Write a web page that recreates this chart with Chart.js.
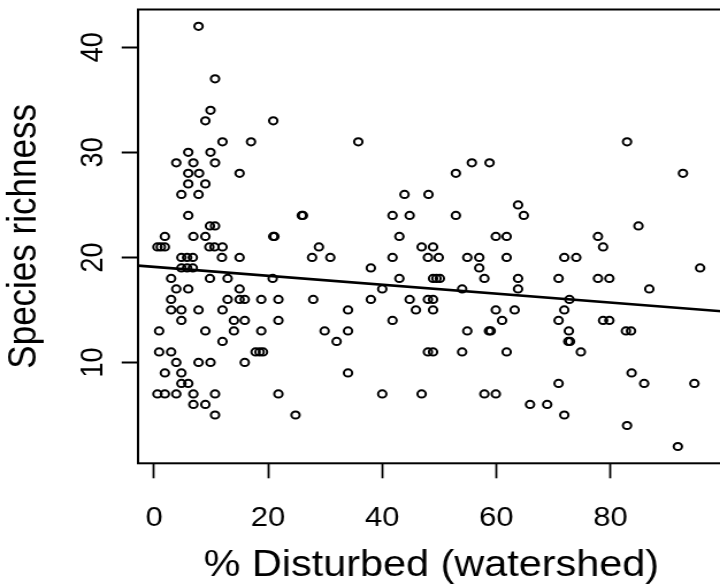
<!DOCTYPE html>
<html>
<head>
<meta charset="utf-8">
<script src="https://cdn.jsdelivr.net/npm/chart.js@4/dist/chart.umd.min.js"></script>
<style>
  html, body { margin: 0; padding: 0; background: #fff; overflow: hidden; width: 720px; height: 588px; }
  /* plot is laid out narrower, then stretched; its right edge runs past the page */
  #wrap { width: 636px; height: 588px; transform: scaleX(1.1502); transform-origin: 0 0; }
</style>
</head>
<body>
<div id="wrap"><canvas id="scatter"></canvas></div>
<script>
// % of watershed disturbed, one line per richness level below
const disturbed = [
  7.8,
  10.7,
  9.9,
  9.0, 20.9,
  12.0, 17.0, 35.8, 82.9,
  6.0, 9.9,
  3.9, 6.9, 10.7, 55.7, 58.8,
  6.0, 7.9, 15.0, 52.9, 92.7,
  6.0, 9.0,
  4.8, 7.8, 43.9, 48.1,
  63.8,
  6.0, 25.9, 26.1, 41.8, 44.8, 52.9, 64.8,
  9.8, 10.7, 84.9,
  1.9, 6.9, 9.0, 20.9, 21.1, 43.0, 59.9, 61.8, 77.8,
  0.6, 1.2, 1.9, 9.7, 10.6, 12.0, 28.9, 46.9, 48.9, 78.7,
  4.8, 5.8, 6.8, 11.9, 15.0, 27.7, 30.9, 41.8, 48.0, 49.9, 54.9, 57.0, 61.8, 71.9, 74.0,
  4.8, 5.8, 6.8, 38.0, 57.0, 95.7,
  3.0, 9.8, 12.9, 20.8, 43.0, 48.9, 49.5, 50.1, 57.9, 63.8, 70.9, 77.8, 79.8,
  3.9, 6.0, 15.0, 40.0, 54.0, 63.8, 86.8,
  3.0, 12.9, 15.0, 15.9, 18.8, 21.8, 27.9, 38.0, 44.8, 48.0, 48.9, 72.8,
  3.0, 4.8, 7.8, 12.0, 34.0, 45.9, 48.9, 59.9, 63.2, 71.9,
  4.8, 14.0, 15.9, 21.8, 41.8, 61.0, 70.9, 78.7, 79.8,
  0.9, 9.0, 14.0, 18.8, 29.9, 34.0, 54.9, 58.7, 59.0, 72.7, 82.7, 83.6,
  12.0, 32.0, 72.6, 72.9,
  0.9, 3.0, 17.8, 18.5, 19.1, 48.0, 48.9, 54.0, 61.8, 74.8,
  3.9, 7.8, 9.9, 15.9,
  1.9, 4.8, 34.0, 83.7,
  4.8, 6.0, 70.9, 85.9, 94.7,
  0.6, 1.9, 3.9, 6.9, 10.7, 21.8, 40.0, 46.9, 57.9, 59.9,
  6.9, 9.0, 65.9, 68.9,
  10.7, 24.8, 71.9,
  82.9,
  91.8
];

const richness = [
  42,
  37,
  34,
  33, 33,
  31, 31, 31, 31,
  30, 30,
  29, 29, 29, 29, 29,
  28, 28, 28, 28, 28,
  27, 27,
  26, 26, 26, 26,
  25,
  24, 24, 24, 24, 24, 24, 24,
  23, 23, 23,
  22, 22, 22, 22, 22, 22, 22, 22, 22,
  21, 21, 21, 21, 21, 21, 21, 21, 21, 21,
  20, 20, 20, 20, 20, 20, 20, 20, 20, 20, 20, 20, 20, 20, 20,
  19, 19, 19, 19, 19, 19,
  18, 18, 18, 18, 18, 18, 18, 18, 18, 18, 18, 18, 18,
  17, 17, 17, 17, 17, 17, 17,
  16, 16, 16, 16, 16, 16, 16, 16, 16, 16, 16, 16,
  15, 15, 15, 15, 15, 15, 15, 15, 15, 15,
  14, 14, 14, 14, 14, 14, 14, 14, 14,
  13, 13, 13, 13, 13, 13, 13, 13, 13, 13, 13, 13,
  12, 12, 12, 12,
  11, 11, 11, 11, 11, 11, 11, 11, 11, 11,
  10, 10, 10, 10,
  9, 9, 9, 9,
  8, 8, 8, 8, 8,
  7, 7, 7, 7, 7, 7, 7, 7, 7, 7,
  6, 6, 6, 6,
  5, 5, 5,
  4,
  2
];

const xTicks = [0, 20, 40, 60, 80];
const yTicks = [10, 20, 30, 40];

// fitted straight line: richness = fitIntercept + fitSlope * disturbed
const fitIntercept = 19.1;
const fitSlope = -0.0425;

const xRange = [-2.8, 100];
const yRange = [0.4, 43.6];

const family = '"Liberation Sans", Arial, Helvetica, sans-serif';

const points = disturbed.map((x, i) => ({ x: x, y: richness[i] }));
const fitLine = xRange.map(x => ({ x: x, y: fitIntercept + fitSlope * x }));

// box around the plotting region
const frame = {
  id: 'frame',
  afterDatasetsDraw(chart) {
    const { ctx, chartArea: a } = chart;
    ctx.save();
    ctx.strokeStyle = '#000';
    ctx.lineWidth = 2;
    ctx.strokeRect(a.left, a.top, a.right - a.left, a.bottom - a.top);
    ctx.restore();
  }
};

// y tick labels run parallel to the axis, centred on their ticks
const yLabels = {
  id: 'yLabels',
  afterDraw(chart) {
    const { ctx } = chart;
    const y = chart.scales.y;
    ctx.save();
    ctx.fillStyle = '#000';
    ctx.font = '27px ' + family;
    ctx.textAlign = 'center';
    ctx.textBaseline = 'middle';
    yTicks.forEach(v => {
      ctx.save();
      ctx.translate(81.7, y.getPixelForValue(v));
      ctx.rotate(-Math.PI / 2);
      ctx.fillText(String(v), 0, 0);
      ctx.restore();
    });
    ctx.restore();
  }
};

new Chart(document.getElementById('scatter'), {
  type: 'scatter',
  data: {
    datasets: [{
      data: points,
      pointStyle: 'circle',
      pointRadius: 3.6,
      pointBorderWidth: 2,
      borderColor: '#000',
      backgroundColor: 'rgba(0,0,0,0)',
      pointBackgroundColor: 'rgba(0,0,0,0)'
    }, {
      type: 'line',
      data: fitLine,
      borderColor: '#000',
      borderWidth: 2.6,
      pointRadius: 0,
      fill: false
    }]
  },
  options: {
    responsive: true,
    maintainAspectRatio: false,
    devicePixelRatio: 1,
    animation: false,
    events: [],
    layout: { padding: { top: 9.5, right: 0, bottom: 0, left: 0 } },
    plugins: { legend: { display: false }, tooltip: { enabled: false } },
    scales: {
      x: {
        type: 'linear',
        min: xRange[0],
        max: xRange[1],
        afterBuildTicks: s => { s.ticks = xTicks.map(v => ({ value: v })); },
        afterFit: s => { s.height = 124.7; },
        border: { display: false },
        grid: { drawOnChartArea: false, drawTicks: true, tickLength: 15, tickWidth: 1.8, tickColor: '#000' },
        ticks: { color: '#000', font: { family: family, size: 27 }, padding: 24, maxRotation: 0, autoSkip: false },
        title: { display: true, text: '% Disturbed (watershed)', color: '#000', font: { family: family, size: 36 }, padding: { top: 0, bottom: 0 } }
      },
      y: {
        type: 'linear',
        min: yRange[0],
        max: yRange[1],
        afterBuildTicks: s => { s.ticks = yTicks.map(v => ({ value: v })); },
        afterFit: s => { s.width = 120; },
        border: { display: false },
        grid: { drawOnChartArea: false, drawTicks: true, tickLength: 14.2, tickWidth: 2, tickColor: '#000' },
        ticks: { display: false },
        title: { display: true, text: 'Species richness', color: '#000', font: { family: family, size: 35 }, padding: { top: 0, bottom: 0 } }
      }
    }
  },
  plugins: [frame, yLabels]
});
</script>
</body>
</html>
